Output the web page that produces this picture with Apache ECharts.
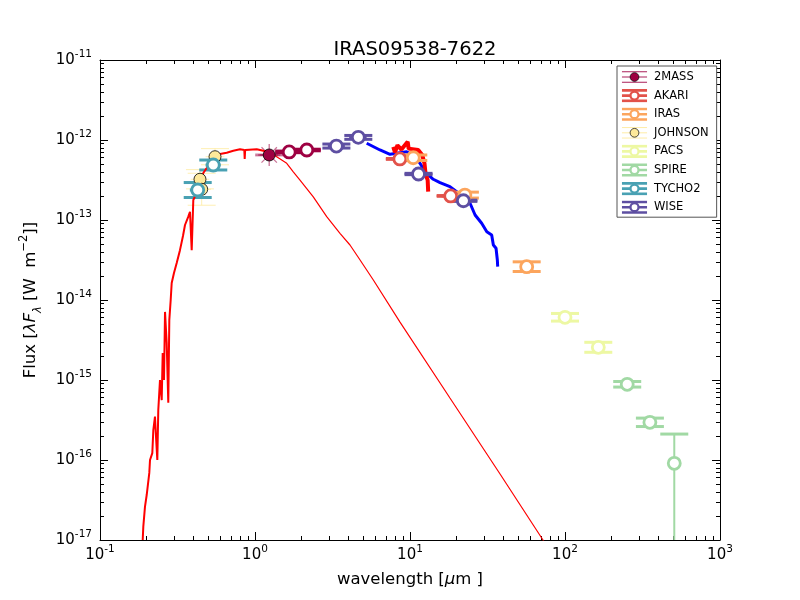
<!DOCTYPE html>
<html>
<head>
<meta charset="utf-8">
<script src="https://cdn.jsdelivr.net/npm/echarts@6/dist/echarts.min.js"></script>
<style>
  html, body { margin: 0; padding: 0; background: #fff; }
  #chart { width: 800px; height: 600px; }
</style>
</head>
<body>
<div id="chart"></div>
<script>
// stellar model (thick, blue/optical part) : wavelength [um], lambda F_lambda [W m-2]
var modelWave = [0.1886, 0.1903, 0.1951, 0.2001, 0.208, 0.2102, 0.2175, 0.2208, 0.2263, 0.2298, 0.2343,
  0.2377, 0.2438, 0.2501, 0.2538, 0.2588, 0.2627, 0.2693, 0.2758, 0.28, 0.2858, 0.2901, 0.3001, 0.3125,
  0.328, 0.343, 0.3535, 0.3713, 0.3807, 0.3905, 0.3999, 0.4205, 0.4417, 0.4639, 0.488, 0.5125, 0.552,
  0.5945, 0.657, 0.7244, 0.80, 0.853, 0.858, 0.864, 0.884, 1.026, 1.131, 1.25];
var modelFlux = [1e-17, 1.47e-17, 2.61e-17, 3.65e-17, 6.9e-17, 1e-16, 1.22e-16, 2.37e-16, 3.48e-16, 1.95e-16, 1e-16,
  4.2e-16, 1e-15, 5.6e-16, 2.18e-15, 1e-15, 7.1e-15, 2.9e-15, 5.2e-16, 5.6e-15, 1e-14, 1.63e-14, 2.18e-14, 2.9e-14,
  4.2e-14, 6.3e-14, 8.66e-14, 1.1e-13, 1.27e-13, 4.2e-14, 1.78e-13, 2.18e-13, 2.61e-13, 3.87e-13, 4.47e-13, 5.16e-13, 6.18e-13,
  6.68e-13, 6.94e-13, 7.35e-13, 7.65e-13, 7.5e-13, 5.8e-13, 7.5e-13, 7.65e-13, 7.65e-13, 7.35e-13, 6.94e-13];

// stellar model, Rayleigh-Jeans tail (thin)
var tailWave = [1.25, 1.38, 1.602, 1.766, 1.951, 2.377, 2.901, 3.534, 4.1, 4.6, 5.8, 8.62, 18.1, 38.1, 72.1, 90];
var tailFlux = [6.94e-13, 6.18e-13, 5.11e-13, 4.0e-13, 3.16e-13, 1.95e-13, 1.1e-13, 6.82e-14, 4.87e-14, 3.5e-14,
  1.78e-14, 5.3e-15, 5.96e-16, 6.68e-17, 1e-17, 5e-18];

// red mid-IR spectrum
var redSpecWave = [7.8, 8.0, 8.3, 8.8, 9.29, 9.66, 9.8, 10.0, 11.3, 12.0, 12.4, 12.6, 13.0, 13.1];
var redSpecFlux = [8.2e-13, 7.0e-13, 8.6e-13, 7.6e-13, 8.66e-13, 9.5e-13, 7.8e-13, 8.2e-13, 7.5e-13, 6.5e-13,
  5.1e-13, 3.8e-13, 3.16e-13, 2.26e-13];

// blue mid-IR spectrum
var blueSpecWave = [5.255, 6.4, 7.43, 8.21, 9.52, 10.77, 11.6, 12.5, 14.13, 15.61, 18.1, 20.0, 22.1, 24.4,
  26.3, 29.0, 31.3, 33.65, 34.5, 35.9, 36.6, 36.8];
var blueSpecFlux = [9.1e-13, 7.5e-13, 6.63e-13, 6.82e-13, 7.14e-13, 6.18e-13, 5.11e-13, 4.0e-13, 3.23e-13, 2.93e-13,
  2.61e-13, 2.26e-13, 1.87e-13, 1.62e-13, 1.155e-13, 9.1e-14, 7.14e-14, 6.5e-14, 4.87e-14, 4.43e-14, 3.16e-14, 2.61e-14];

// photometry
var mass2Wave = [1.235, 1.662, 2.159];
var mass2Flux = [6.5e-13, 7.1e-13, 7.5e-13];
var mass2WaveLo = [1.08, 1.45, 1.90];
var mass2WaveHi = [1.41, 1.90, 2.60];
var mass2FluxLo = [6.35e-13, 6.94e-13, 7.33e-13];
var mass2FluxHi = [6.65e-13, 7.27e-13, 7.67e-13];
var mass2Filled = [1, 0, 0];

var akariWave = [8.6, 18.3];
var akariFlux = [5.8e-13, 2.0e-13];
var akariWaveLo = [7.6, 16.0];
var akariWaveHi = [9.8, 20.8];
var akariFluxLo = [5.73e-13, 1.98e-13];
var akariFluxHi = [5.87e-13, 2.02e-13];

var irasWave = [10.5, 22.6, 56.6];
var irasFlux = [6.0e-13, 2.05e-13, 2.61e-14];
var irasWaveLo = [9.6, 20.6, 51.6];
var irasWaveHi = [11.5, 24.8, 62.0];
var irasFluxLo = [5.54e-13, 1.88e-13, 2.27e-14];
var irasFluxHi = [6.5e-13, 2.23e-13, 3.0e-14];

var johnsonWave = [0.4416, 0.453, 0.552];
var johnsonFlux = [3.23e-13, 2.42e-13, 6.18e-13];
var johnsonWaveLo = [0.385, 0.395, 0.48];
var johnsonWaveHi = [0.507, 0.52, 0.634];
var johnsonFluxLo = [2.45e-13, 1.53e-13, 4.9e-13];
var johnsonFluxHi = [4.26e-13, 3.84e-13, 7.8e-13];

var pacsWave = [100, 164];
var pacsFlux = [6.08e-15, 2.56e-15];
var pacsWaveLo = [91, 149];
var pacsWaveHi = [110, 180];
var pacsFluxLo = [5.45e-15, 2.22e-15];
var pacsFluxHi = [6.79e-15, 2.96e-15];

var spireWave = [252, 353, 507];
var spireFlux = [8.84e-16, 2.96e-16, 9.1e-17];
var spireWaveLo = [235, 330, 473];
var spireWaveHi = [270, 378, 543];
var spireFluxLo = [8.16e-16, 2.62e-16, 1e-18];
var spireFluxHi = [9.58e-16, 3.34e-16, 2.11e-16];

var tychoWave = [0.427, 0.538];
var tychoFlux = [2.37e-13, 4.87e-13];
var tychoWaveLo = [0.38, 0.48];
var tychoWaveHi = [0.48, 0.60];
var tychoFluxLo = [1.91e-13, 4.22e-13];
var tychoFluxHi = [2.94e-13, 5.62e-13];

var wiseWave = [3.35, 4.64, 11.35, 22.1];
var wiseFlux = [8.4e-13, 1.08e-12, 3.76e-13, 1.74e-13];
var wiseWaveLo = [2.95, 4.05, 9.6, 19.5];
var wiseWaveHi = [3.8, 5.25, 13.4, 25.0];
var wiseFluxLo = [7.93e-13, 1.02e-12, 3.69e-13, 1.71e-13];
var wiseFluxHi = [8.9e-13, 1.14e-12, 3.83e-13, 1.77e-13];

var sources = [
  { name: '2MASS', color: '#9e0142', w: mass2Wave, f: mass2Flux, wl: mass2WaveLo, wh: mass2WaveHi, fl: mass2FluxLo, fh: mass2FluxHi, filled: mass2Filled },
  { name: 'AKARI', color: '#e2524a', w: akariWave, f: akariFlux, wl: akariWaveLo, wh: akariWaveHi, fl: akariFluxLo, fh: akariFluxHi },
  { name: 'IRAS', color: '#fca55d', w: irasWave, f: irasFlux, wl: irasWaveLo, wh: irasWaveHi, fl: irasFluxLo, fh: irasFluxHi },
  { name: 'JOHNSON', color: '#fee99a', w: johnsonWave, f: johnsonFlux, wl: johnsonWaveLo, wh: johnsonWaveHi, fl: johnsonFluxLo, fh: johnsonFluxHi, allFilled: true },
  { name: 'PACS', color: '#edf8a3', w: pacsWave, f: pacsFlux, wl: pacsWaveLo, wh: pacsWaveHi, fl: pacsFluxLo, fh: pacsFluxHi },
  { name: 'SPIRE', color: '#a1d9a4', w: spireWave, f: spireFlux, wl: spireWaveLo, wh: spireWaveHi, fl: spireFluxLo, fh: spireFluxHi },
  { name: 'TYCHO2', color: '#49a1b3', w: tychoWave, f: tychoFlux, wl: tychoWaveLo, wh: tychoWaveHi, fl: tychoFluxLo, fh: tychoFluxHi },
  { name: 'WISE', color: '#5e4fa2', w: wiseWave, f: wiseFlux, wl: wiseWaveLo, wh: wiseWaveHi, fl: wiseFluxLo, fh: wiseFluxHi }
];

var FONT = 'DejaVu Sans';

function zip(a, b) {
  return a.map(function (v, i) { return [v, b[i]]; });
}

function isFilled(src, i) {
  if (src.allFilled) return true;
  return !!(src.filled && src.filled[i]);
}

// errorbar with matplotlib-like caps (fixed pixel cap size)
function barRenderer(color) {
  return function (params, api) {
    var x = api.value(0), y = api.value(1);
    var thin = api.value(6) === 1;
    var c = api.coord([x, y]);
    var l = api.coord([api.value(2), y]);
    var r = api.coord([api.value(3), y]);
    var b = api.coord([x, api.value(4)]);
    var t = api.coord([x, api.value(5)]);
    var cap = 14;
    function st(w) {
      return { stroke: color, lineWidth: thin ? 1 : w, opacity: thin ? 0.75 : 1 };
    }
    return {
      type: 'group',
      children: [
        { type: 'line', shape: { x1: l[0], y1: c[1], x2: r[0], y2: c[1] }, style: st(3) },
        { type: 'line', shape: { x1: c[0], y1: b[1], x2: c[0], y2: t[1] }, style: st(2) },
        { type: 'line', shape: { x1: c[0] - cap, y1: b[1], x2: c[0] + cap, y2: b[1] }, style: st(3) },
        { type: 'line', shape: { x1: c[0] - cap, y1: t[1], x2: c[0] + cap, y2: t[1] }, style: st(3) }
      ]
    };
  };
}

function legendIcon(color, filled) {
  var lw = filled ? 1 : 3;
  var svg = '<svg xmlns="http://www.w3.org/2000/svg" width="29" height="16" viewBox="0 0 29 16">' +
    '<g stroke="' + color + '" stroke-width="' + lw + '">' +
    '<line x1="0" y1="2" x2="29" y2="2"/><line x1="0" y1="8" x2="29" y2="8"/><line x1="0" y1="14" x2="29" y2="14"/></g>' +
    (filled
      ? '<circle cx="14.5" cy="8" r="5" fill="' + color + '" stroke="#000" stroke-width="0.8"/>'
      : '<circle cx="14.5" cy="8" r="4.6" fill="#fff" stroke="' + color + '" stroke-width="2.6"/>') +
    '</svg>';
  return 'image://data:image/svg+xml;charset=utf-8,' + encodeURIComponent(svg);
}

var series = [];

series.push({
  type: 'line', name: 'blueSpec', data: zip(blueSpecWave, blueSpecFlux),
  showSymbol: false, silent: true, z: 2, clip: true,
  lineStyle: { color: '#0000ff', width: 3 }
});
series.push({
  type: 'line', name: 'redSpec', data: zip(redSpecWave, redSpecFlux),
  showSymbol: false, silent: true, z: 2, clip: true,
  lineStyle: { color: '#ff0000', width: 4 }
});

// asterisk behind the 2MASS J point
series.push({
  type: 'scatter', name: 'mass2star', data: [[mass2Wave[0], mass2Flux[0]]],
  symbol: 'path://M9.4 0h1.2v20h-1.2z M0 9.4h20v1.2h-20z M2.6 3.4 L3.4 2.6 L17.4 16.6 L16.6 17.4 Z M16.6 2.6 L17.4 3.4 L3.4 17.4 L2.6 16.6 Z',
  symbolSize: 22, silent: true, z: 3,
  itemStyle: { color: 'rgba(158,1,66,0.55)', opacity: 1 }
});

sources.forEach(function (src) {
  var barData = src.w.map(function (w, i) {
    return [w, src.f[i], src.wl[i], src.wh[i], src.fl[i], src.fh[i], isFilled(src, i) ? 1 : 0];
  });
  series.push({
    type: 'custom', name: src.name, data: barData, renderItem: barRenderer(src.color),
    encode: { x: 0, y: 1 }, clip: true, silent: true, z: 3
  });
  series.push({
    type: 'scatter', name: src.name, symbol: 'circle', symbolSize: 12, silent: true, z: 5,
    data: src.w.map(function (w, i) {
      var f = isFilled(src, i);
      return {
        value: [w, src.f[i]],
        itemStyle: f ? { color: src.color, borderColor: '#000', borderWidth: 0.8, opacity: 1 }
                     : { color: '#fff', borderColor: src.color, borderWidth: 2.8, opacity: 1 }
      };
    })
  });
});

series.push({
  type: 'line', name: 'model', data: zip(modelWave, modelFlux),
  showSymbol: false, silent: true, z: 4, clip: true,
  lineStyle: { color: '#ff0000', width: 2 }
});
series.push({
  type: 'line', name: 'tail', data: zip(tailWave, tailFlux),
  showSymbol: false, silent: true, z: 4, clip: true,
  lineStyle: { color: '#ff0000', width: 1.2 }
});

// minor tick positions for log axes (2..9 x decade)
function minorTicks(e0, e1) {
  var out = [];
  for (var e = e0; e < e1; e++) {
    for (var m = 2; m <= 9; m++) out.push(m * Math.pow(10, e));
  }
  return out;
}

var powLabel = {
  formatter: function (v) {
    var e = Math.round(Math.log10(v));
    return '{b|10}{s|' + e + '}';
  },
  rich: {
    b: { fontSize: 15, fontFamily: FONT, color: '#000', lineHeight: 22 },
    s: { fontSize: 10.5, fontFamily: FONT, color: '#000', verticalAlign: 'top', lineHeight: 12 }
  }
};

function majorAxis(pos, min, max, withLabel) {
  return {
    type: 'log', logBase: 10, min: min, max: max, interval: 1, position: pos,
    axisLine: { show: true, onZero: false, lineStyle: { color: '#000', width: 1 } },
    axisTick: { show: true, inside: true, length: 8, lineStyle: { color: '#000' } },
    axisLabel: withLabel ? Object.assign({ show: true, margin: pos === 'bottom' ? 4 : 8 }, powLabel) : { show: false },
    splitLine: { show: false }, minorTick: { show: false }
  };
}

function minorAxis(pos, min, max, e0, e1) {
  return {
    type: 'log', logBase: 10, min: min, max: max, position: pos,
    axisLine: { show: false },
    axisTick: { show: true, inside: true, length: 4, customValues: minorTicks(e0, e1), lineStyle: { color: '#000' } },
    axisLabel: { show: false }, splitLine: { show: false }
  };
}

var xMain = majorAxis('bottom', 0.1, 1000, true);
xMain.name = '{n|wavelength [}{i|μ}{n|m ]}';
xMain.nameLocation = 'middle';
xMain.nameGap = 31;
xMain.nameTextStyle = {
  rich: {
    n: { fontSize: 16.5, fontFamily: FONT, color: '#000' },
    i: { fontSize: 16.5, fontFamily: FONT, color: '#000', fontStyle: 'italic' }
  }
};

var yMain = majorAxis('left', 1e-17, 1e-11, true);
yMain.name = '{n|Flux [}{i|λF}{sub|λ}{n| [W  m}{sup|−2}{n|]]}';
yMain.nameLocation = 'middle';
yMain.nameRotate = 90;
yMain.nameGap = 56;
yMain.nameTextStyle = {
  rich: {
    n: { fontSize: 16.5, fontFamily: FONT, color: '#000', lineHeight: 26 },
    i: { fontSize: 16.5, fontFamily: FONT, color: '#000', fontStyle: 'italic', lineHeight: 26 },
    sub: { fontSize: 11.5, fontFamily: FONT, color: '#000', fontStyle: 'italic', verticalAlign: 'bottom', lineHeight: 13 },
    sup: { fontSize: 11.5, fontFamily: FONT, color: '#000', verticalAlign: 'top', lineHeight: 13 }
  }
};

var option = {
  animation: false,
  backgroundColor: '#ffffff',
  title: {
    text: 'IRAS09538-7622', left: 410, top: 35, textAlign: 'center',
    textStyle: { fontSize: 19.5, fontWeight: 'normal', color: '#000', fontFamily: FONT }
  },
  legend: {
    orient: 'vertical', left: 617, top: 66,
    padding: [4, 8, 3, 3], itemGap: 4.6, itemWidth: 29, itemHeight: 14,
    backgroundColor: '#fff', borderColor: '#555', borderWidth: 1, borderRadius: 0,
    selectedMode: false,
    textStyle: { fontSize: 11.5, fontFamily: FONT, color: '#000', padding: [0, 0, 0, 0] },
    data: sources.map(function (s) {
      return { name: s.name, icon: legendIcon(s.color, s.name === '2MASS' || s.name === 'JOHNSON') };
    })
  },
  grid: { left: 100, right: 80, top: 60, bottom: 60, containLabel: false },
  xAxis: [
    xMain,
    minorAxis('bottom', 0.1, 1000, -1, 3),
    majorAxis('top', 0.1, 1000, false),
    minorAxis('top', 0.1, 1000, -1, 3)
  ],
  yAxis: [
    yMain,
    minorAxis('left', 1e-17, 1e-11, -17, -11),
    majorAxis('right', 1e-17, 1e-11, false),
    minorAxis('right', 1e-17, 1e-11, -17, -11)
  ],
  series: series
};

var chart = echarts.init(document.getElementById('chart'));
chart.setOption(option);
</script>
</body>
</html>
